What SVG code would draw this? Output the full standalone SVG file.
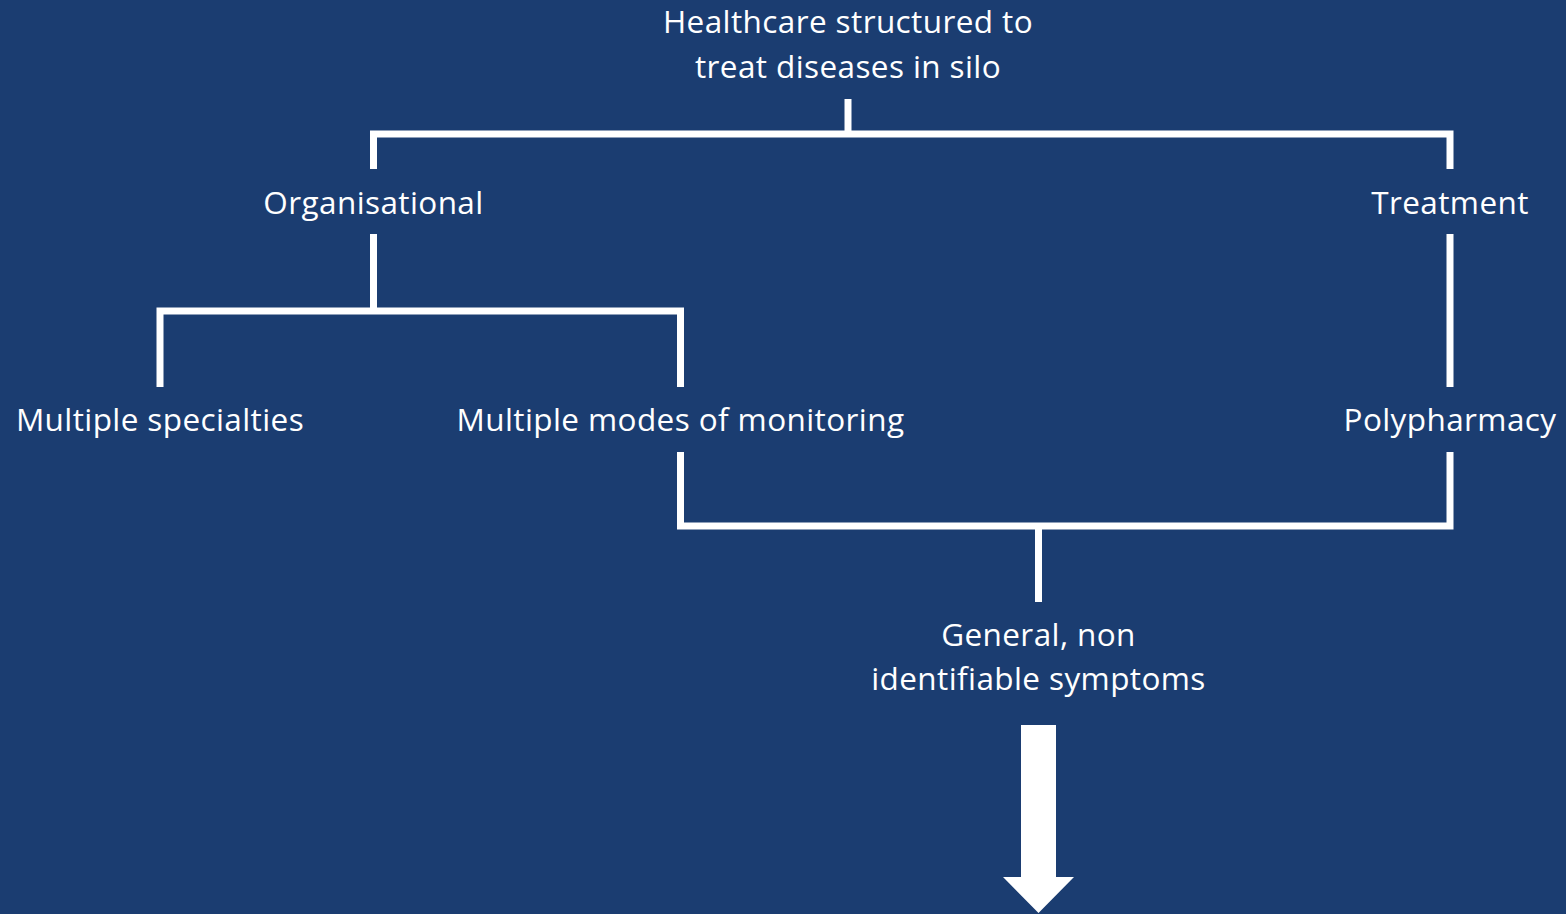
<svg xmlns="http://www.w3.org/2000/svg" width="1566" height="914" viewBox="0 0 1566 914">
<style>
.t{font-family:"Open Sans","Liberation Sans",sans-serif;font-size:31.5px;letter-spacing:0.4px;fill:#ffffff;text-anchor:middle}
.c{fill:none;stroke:#ffffff;stroke-width:7;stroke-linecap:butt;stroke-linejoin:miter}
</style>
<rect x="0" y="0" width="1566" height="914" fill="#1b3d71"/>
<g id="connectors">
<path class="c" d="M848 99V134"/>
<path class="c" d="M373.5 169V134H1450V169"/>
<path class="c" d="M373.5 234V311"/>
<path class="c" d="M160 387V311H680.5V387"/>
<path class="c" d="M1450 234V387"/>
<path class="c" d="M680.5 452V526H1450V452"/>
<path class="c" d="M1038.5 526V602"/>
<polygon points="1021,725 1056,725 1056,877 1074,877 1038.5,913 1003,877 1021,877" fill="#ffffff"/>
</g>
<g id="n-root"><text class="t" x="848" y="33">Healthcare structured to</text><text class="t" x="848" y="78">treat diseases in silo</text></g>
<g id="n-org"><text class="t" x="373.5" y="214">Organisational</text></g>
<g id="n-treat"><text class="t" x="1450" y="214">Treatment</text></g>
<g id="n-spec"><text class="t" x="160" y="431">Multiple specialties</text></g>
<g id="n-modes"><text class="t" x="680.5" y="431">Multiple modes of monitoring</text></g>
<g id="n-poly"><text class="t" x="1450" y="431">Polypharmacy</text></g>
<g id="n-gen"><text class="t" x="1038.5" y="646">General, non</text><text class="t" x="1038.5" y="690">identifiable symptoms</text></g>
</svg>
